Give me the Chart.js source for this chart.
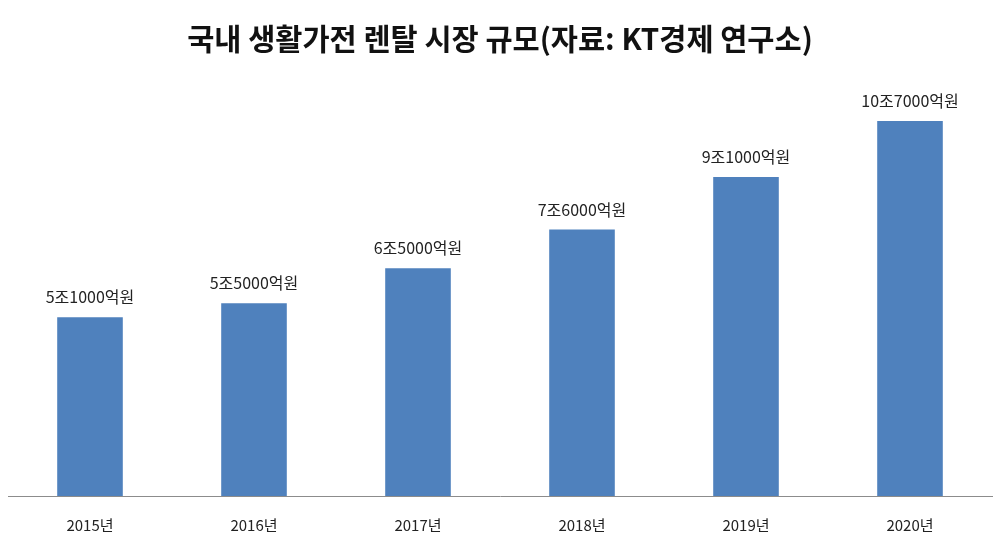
<!DOCTYPE html>
<html><head><meta charset="utf-8">
<script src="https://cdn.jsdelivr.net/npm/chart.js@4/dist/chart.umd.min.js"></script>
<style>html,body{margin:0;padding:0;background:#fff}#w{width:1000px;height:550px}</style>
</head><body><div id="w"><canvas id="c"></canvas></div>
<script>
const categories = ['2015년','2016년','2017년','2018년','2019년','2020년'];
const values = [5.1, 5.5, 6.5, 7.6, 9.1, 10.7];
const valueLabels = ['5조1000억원','5조5000억원','6조5000억원','7조6000억원','9조1000억원','10조7000억원'];
const titleText = '국내 생활가전 렌탈 시장 규모(자료: KT경제 연구소)';

const barLabels = {
  id: 'barLabels',
  afterDatasetsDraw(chart) {
    const ctx = chart.ctx;
    const meta = chart.getDatasetMeta(0);
    ctx.save();
    ctx.font = '16px "Noto Sans CJK KR", sans-serif';
    ctx.fillStyle = '#222';
    ctx.textAlign = 'center';
    ctx.textBaseline = 'middle';
    meta.data.forEach((bar, i) => {
      ctx.fillText(valueLabels[i], bar.x, bar.y - 20);
    });
    ctx.restore();
  }
};

new Chart(document.getElementById('c'), {
  type: 'bar',
  data: {
    labels: categories,
    datasets: [{
      data: values,
      backgroundColor: '#4F81BD',
      categoryPercentage: 1,
      barPercentage: 0.4
    }]
  },
  options: {
    responsive: true,
    maintainAspectRatio: false,
    animation: false,
    layout: { padding: { left: 8, right: 8, bottom: 4, top: 0 } },
    plugins: {
      legend: { display: false },
      tooltip: { enabled: false },
      title: {
        display: true,
        text: titleText,
        color: '#111',
        font: { family: '"Noto Sans CJK KR", sans-serif', size: 29.5, weight: 'bold', lineHeight: 1.2 },
        padding: { top: 21, bottom: 19 }
      }
    },
    scales: {
      x: {
        grid: { display: false },
        border: { display: true, color: '#8c8c8c', width: 1 },
        ticks: { color: '#222', padding: 12, font: { family: '"Noto Sans CJK KR", sans-serif', size: 15 } }
      },
      y: {
        display: false,
        min: 0,
        max: 12
      }
    }
  },
  plugins: [barLabels]
});
</script>
</body></html>
